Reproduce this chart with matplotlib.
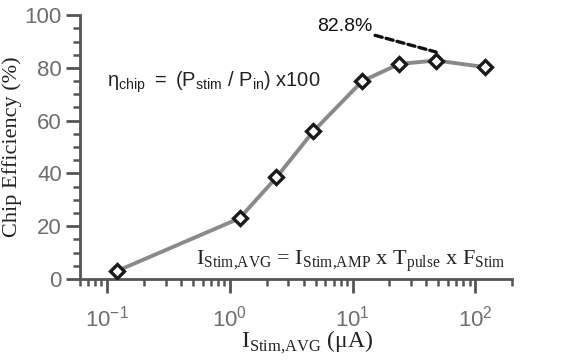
import matplotlib
matplotlib.use("Agg")
import matplotlib.pyplot as plt
from matplotlib.ticker import MultipleLocator, LogLocator

plt.rcParams["font.family"] = ["Liberation Sans", "DejaVu Sans"]
plt.rcParams["mathtext.fontset"] = "custom"
plt.rcParams["mathtext.rm"] = "Liberation Serif"
plt.rcParams["mathtext.sf"] = "Liberation Sans"

# Average stimulation current (uA) and chip efficiency (%)
i_stim_avg = [0.12, 1.2, 2.4, 4.8, 12, 24, 48, 120]
efficiency = [3.0, 23.0, 38.5, 56.0, 75.0, 81.5, 82.8, 80.3]
peak_label = "82.8%"

fig = plt.figure(figsize=(5.66, 3.6), dpi=100)
ax = fig.add_axes([0.141, 0.225, 0.764, 0.733])

ax.plot(i_stim_avg, efficiency, color="#8a8a8a", lw=2.8, zorder=2)
ax.plot(i_stim_avg, efficiency, ls="none", marker="D", ms=7.5,
        mfc="white", mec="#1a1a1a", mew=2.4, zorder=3)

ax.set_xscale("log")
ax.set_xlim(0.06, 200)
ax.set_ylim(0, 100)
ax.yaxis.set_major_locator(MultipleLocator(20))
ax.yaxis.set_minor_locator(MultipleLocator(5))
ax.xaxis.set_major_locator(LogLocator(base=10))
ax.xaxis.set_minor_locator(LogLocator(base=10, subs=range(2, 10)))

for s in ["top", "right"]:
    ax.spines[s].set_visible(False)
for s in ["left", "bottom"]:
    ax.spines[s].set_color("#555555")
    ax.spines[s].set_linewidth(2)

ax.tick_params(which="major", direction="out", length=10, width=2,
               color="#555555", labelsize=16, labelcolor="#6e6e6e", pad=3)
ax.tick_params(which="minor", direction="out", length=5, width=1.8,
               color="#555555")
ax.tick_params(axis="x", which="major", pad=9)

ax.set_ylabel("Chip Efficiency (%)", family="Liberation Serif",
              fontsize=16, color="#222222", labelpad=2)
ax.set_xlabel(r"I$_{\rm Stim{,}AVG}$ (μA)", family="Liberation Serif",
              fontsize=17, color="#222222", labelpad=0)
ax.xaxis.set_label_coords(0.527, -0.19)

ax.text(0.1, 74.5,
        r"$\mathsf{η_{chip}\;=\;(P_{stim}\;/\;P_{in})\;x100}$",
        fontsize=14.5, color="#222222", va="center", ha="left")
ax.text(178, 6.5,
        r"I$_{\rm Stim{,}AVG}$ = I$_{\rm Stim{,}AMP}$ x T$_{\rm pulse}$ x F$_{\rm Stim}$",
        family="Liberation Serif", fontsize=16, color="#222222",
        va="center", ha="right")

ax.annotate(peak_label, xy=(i_stim_avg[6], 86), xytext=(14.5, 95.5),
            fontsize=14, color="#111111", ha="right", va="center",
            arrowprops=dict(arrowstyle="-", ls=(0, (2.2, 1.2)), lw=2.4,
                            color="#111111", shrinkA=0, shrinkB=0))

fig.savefig("out.png", dpi=100)
